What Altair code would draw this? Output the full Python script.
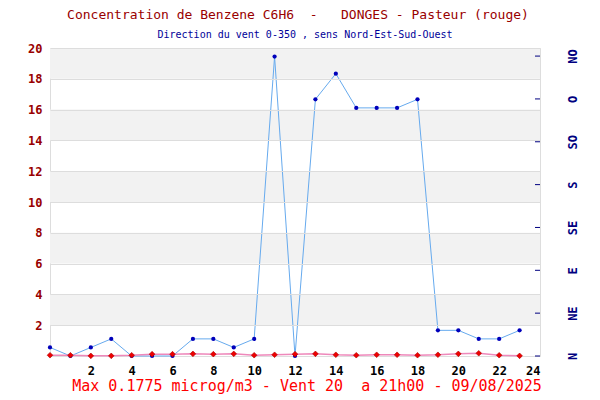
import altair as alt
import pandas as pd

hours = list(range(24))
benzene = [0.05, 0.05, 0.01, 0.01, 0.05, 0.12, 0.12, 0.14, 0.12, 0.14, 0.05, 0.08,
           0.12, 0.14, 0.08, 0.05, 0.08, 0.08, 0.05, 0.08, 0.14, 0.1775, 0.05, 0.01]
wind_dir = [10, 0, 10, 20, 0, 0, 0, 20, 20, 10, 20, 350,
            0, 300, 330, 290, 290, 290, 300, 30, 30, 20, 20, 30]
compass_deg = [0, 45, 90, 135, 180, 225, 270, 315]
compass_lbl = ["N", "NE", "E", "SE", "S", "SO", "O", "NO"]
band_lo = [2, 6, 10, 14, 18]
band_hi = [4, 8, 12, 16, 20]
y_ticks = [2, 4, 6, 8, 10, 12, 14, 16, 18, 20]
x_ticks = [2, 4, 6, 8, 10, 12, 14, 16, 18, 20, 22, 24]

NB = "\u00a0"
title_txt = ("Concentration de Benzene C6H6  -   DONGES - Pasteur (rouge)").replace(" ", NB)
subtitle_txt = "Direction du vent 0-350 , sens Nord-Est-Sud-Ouest".replace(" ", NB)
bottom_txt = "Max 0.1775 microg/m3 - Vent 20  a 21h00 - 09/08/2025".replace(" ", NB)

FONT = "DejaVu Sans Mono"
W, H = 490, 308

df = pd.DataFrame({"h": hours, "benz": benzene, "dir": wind_dir})
bands = pd.DataFrame({"lo": band_lo, "hi": band_hi})
comp = pd.DataFrame({"deg": compass_deg, "lbl": compass_lbl})

xs = alt.Scale(domain=[0, 24], nice=False)
ys = alt.Scale(domain=[0, 20], nice=False)

x_axis = alt.Axis(values=x_ticks, title=None, grid=False, domain=False,
                  ticks=False, labelFont=FONT, labelFontSize=12, labelFontWeight="bold",
                  labelColor="black", labelPadding=9, labelOverlap=False)
y_axis = alt.Axis(values=y_ticks, title=None, grid=True, gridColor="#dddddd",
                  domain=False, ticks=False, labelFont=FONT, labelFontSize=12,
                  labelFontWeight="bold", labelColor="#990000", labelPadding=8, zindex=1,
                  labelOverlap=False, labelBound=False)

band_layer = alt.Chart(bands).mark_rect(color="#f2f2f2").encode(
    x=alt.value(0), x2=alt.value(W),
    y=alt.Y("lo:Q", scale=ys, axis=y_axis), y2="hi:Q")

wind_base = alt.Chart(df).transform_calculate(v="datum.dir / 18").encode(
    x=alt.X("h:Q", scale=xs, axis=x_axis), y=alt.Y("v:Q", scale=ys, axis=y_axis))
wind_line = wind_base.mark_line(color="#66aaee", strokeWidth=1)
wind_pts = wind_base.mark_point(shape="circle", filled=True, color="#0000bb", size=18, opacity=1)

benz_base = alt.Chart(df).encode(x=alt.X("h:Q", scale=xs, axis=x_axis),
                                 y=alt.Y("benz:Q", scale=ys, axis=y_axis))
benz_line = benz_base.mark_line(color="#ee88bb", strokeWidth=1.5)
benz_pts = benz_base.mark_point(shape="diamond", filled=True, color="#ee0000",
                                stroke="#aa0000", strokeWidth=0.6, size=32, opacity=1)

label_expr = " : ".join(
    f"datum.value == {d} ? '{l}'" for d, l in zip(compass_deg, compass_lbl)) + " : ''"

right_layer = alt.Chart(comp).mark_rule(color="#000080", strokeWidth=1).encode(
    x=alt.value(W - 5), x2=alt.value(W),
    y=alt.Y("deg:Q", scale=alt.Scale(domain=[0, 323.5], nice=False, zero=False),
            axis=alt.Axis(orient="right", values=compass_deg, title=None, grid=False,
                          domain=False, ticks=False, labelFont=FONT, labelFontSize=12,
                          labelFontWeight="bold", labelColor="#000080", labelAngle=270,
                          labelAlign="center", labelBaseline="middle", labelPadding=32,
                          labelExpr=label_expr, labelOverlap=False, labelBound=False)))

txt = pd.DataFrame({"t": [title_txt, subtitle_txt, bottom_txt], "k": ["a", "b", "c"]})
title_layer = alt.Chart(txt).transform_filter("datum.k == 'a'").mark_text(
    font=FONT, fontSize=13, color="#990000", align="center", baseline="middle").encode(
    text="t:N", x=alt.value(248), y=alt.value(-33))
sub_layer = alt.Chart(txt).transform_filter("datum.k == 'b'").mark_text(
    font=FONT, fontSize=10, color="#000099", align="center", baseline="middle").encode(
    text="t:N", x=alt.value(255), y=alt.value(-13))
bottom_layer = alt.Chart(txt).transform_filter("datum.k == 'c'").mark_text(
    font=FONT, fontSize=15, color="#ff0000", align="center", baseline="middle").encode(
    text="t:N", x=alt.value(257), y=alt.value(338))

left = alt.layer(band_layer, wind_line, wind_pts, benz_line, benz_pts,
                 title_layer, sub_layer, bottom_layer)

chart = alt.layer(left, right_layer).resolve_scale(y="independent").properties(
    width=W, height=H,
    autosize=alt.AutoSizeParams(type="none"),
    padding={"left": 42, "top": 40, "right": 50, "bottom": 44},
).configure_view(stroke="#cccccc", strokeWidth=1).configure(background="white")

chart.save("out.html", embed_options={"renderer": "svg", "actions": False})
